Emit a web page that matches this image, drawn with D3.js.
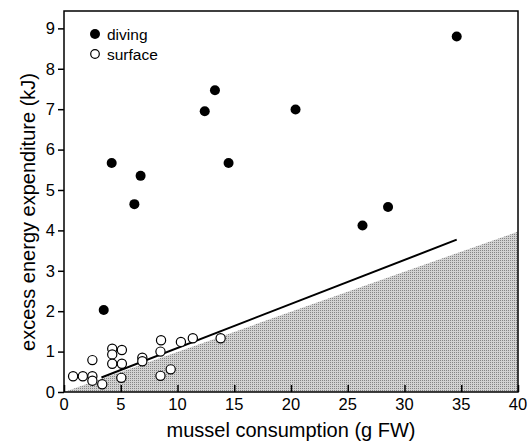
<!DOCTYPE html>
<html>
<head>
<meta charset="utf-8">
<script src="https://cdn.jsdelivr.net/npm/d3@7"></script>
<style>
  body { margin: 0; background: #fff; }
  svg { display: block; }
  text { font-family: "Liberation Sans", Arial, sans-serif; fill: #000; }
</style>
</head>
<body>
<svg id="chart" width="532" height="443"></svg>
<script>
// diving birds (filled)
const divingX = [3.5, 4.2, 6.2, 6.75, 12.4, 13.3, 14.5, 20.4, 26.3, 28.55, 34.6];
const divingY = [2.03, 5.67, 4.65, 5.35, 6.95, 7.47, 5.67, 6.99, 4.12, 4.58, 8.8];

// surface birds (open)
const surfaceX = [0.8, 1.66, 2.5, 2.5, 2.5, 3.37, 4.25, 4.25, 4.25, 5.1, 5.1, 5.05, 6.9, 6.9, 8.55, 8.5, 8.5, 9.4, 10.3, 11.35, 13.8];
const surfaceY = [0.39, 0.39, 0.39, 0.79, 0.28, 0.19, 1.07, 0.93, 0.70, 1.04, 0.70, 0.35, 0.85, 0.76, 1.28, 1.0, 0.40, 0.56, 1.24, 1.33, 1.33];

// regression line end points and shaded region boundary
const lineX = [3.3, 34.6];
const lineY = [0.36, 3.77];
const shadeX = [0, 40, 40];
const shadeY = [0, 3.97, 0];

const xTicks = [0, 5, 10, 15, 20, 25, 30, 35, 40];
const yTicks = [0, 1, 2, 3, 4, 5, 6, 7, 8, 9];

const svg = d3.select("svg#chart");
const margin = {left: 64, right: 14, top: 11, bottom: 51};
const width = 532, height = 443;

const x = d3.scaleLinear().domain([0, 40]).range([margin.left, width - margin.right]);
const y = d3.scaleLinear().domain([0, 9.43]).range([height - margin.bottom, margin.top]);

// dotted shading pattern
const defs = svg.append("defs");
const pat = defs.append("pattern")
  .attr("id", "dots")
  .attr("width", 2).attr("height", 2)
  .attr("patternUnits", "userSpaceOnUse");
pat.append("rect").attr("width", 2).attr("height", 2).attr("fill", "#d2d2d2");
pat.append("rect").attr("width", 1).attr("height", 1).attr("fill", "#858585");

svg.append("path")
  .datum(shadeX.map((d, i) => [d, shadeY[i]]))
  .attr("d", d3.line().x(d => x(d[0])).y(d => y(d[1])))
  .attr("fill", "url(#dots)");

// regression line
svg.append("path")
  .datum(lineX.map((d, i) => [d, lineY[i]]))
  .attr("d", d3.line().x(d => x(d[0])).y(d => y(d[1])))
  .attr("fill", "none")
  .attr("stroke", "#000")
  .attr("stroke-width", 2);

// frame
svg.append("rect")
  .attr("x", x(0)).attr("y", y(9.43))
  .attr("width", x(40) - x(0)).attr("height", y(0) - y(9.43))
  .attr("fill", "none")
  .attr("stroke", "#000")
  .attr("stroke-width", 1.5);

// x axis: ticks point inward
const xAxis = svg.append("g")
  .attr("transform", `translate(0,${y(0)})`)
  .call(d3.axisTop(x).tickValues(xTicks).tickSize(7).tickFormat(""));
xAxis.select(".domain").remove();
xAxis.selectAll("line").attr("stroke-width", 1.5);
svg.append("g").selectAll("text")
  .data(xTicks)
  .join("text")
  .attr("x", d => x(d))
  .attr("y", y(0) + 18)
  .attr("text-anchor", "middle")
  .attr("font-size", 16.5)
  .text(d => d);

// y axis: ticks point outward
const yAxis = svg.append("g")
  .attr("transform", `translate(${x(0)},0)`)
  .call(d3.axisLeft(y).tickValues(yTicks).tickSize(6).tickPadding(3).tickFormat(d3.format("d")));
yAxis.select(".domain").remove();
yAxis.selectAll("line").attr("stroke-width", 1.5);
yAxis.selectAll("text")
  .attr("font-size", 16.5)
  .attr("font-family", "Liberation Sans, Arial, sans-serif")
  .attr("fill", "#000");

// axis titles
svg.append("text")
  .attr("x", (x(0) + x(40)) / 2)
  .attr("y", 437)
  .attr("text-anchor", "middle")
  .attr("font-size", 20)
  .text("mussel consumption (g FW)");

svg.append("text")
  .attr("transform", "translate(35,212) rotate(-90)")
  .attr("text-anchor", "middle")
  .attr("font-size", 20)
  .text("excess energy expenditure (kJ)");

// points
svg.append("g").selectAll("circle")
  .data(surfaceX.map((d, i) => [d, surfaceY[i]]))
  .join("circle")
  .attr("cx", d => x(d[0]))
  .attr("cy", d => y(d[1]))
  .attr("r", 4.6)
  .attr("fill", "#fff")
  .attr("stroke", "#000")
  .attr("stroke-width", 1.2);

svg.append("g").selectAll("circle")
  .data(divingX.map((d, i) => [d, divingY[i]]))
  .join("circle")
  .attr("cx", d => x(d[0]))
  .attr("cy", d => y(d[1]))
  .attr("r", 5)
  .attr("fill", "#000");

// legend
const legend = svg.append("g").attr("transform", "translate(95,34)");
legend.append("circle").attr("cx", 0).attr("cy", 0).attr("r", 5).attr("fill", "#000");
legend.append("text").attr("x", 12).attr("y", 5.5).attr("font-size", 15.5).text("diving");
legend.append("circle").attr("cx", 0).attr("cy", 20).attr("r", 4.3).attr("fill", "#fff")
  .attr("stroke", "#000").attr("stroke-width", 1.2);
legend.append("text").attr("x", 12).attr("y", 25.5).attr("font-size", 15.5).text("surface");
</script>
</body>
</html>
